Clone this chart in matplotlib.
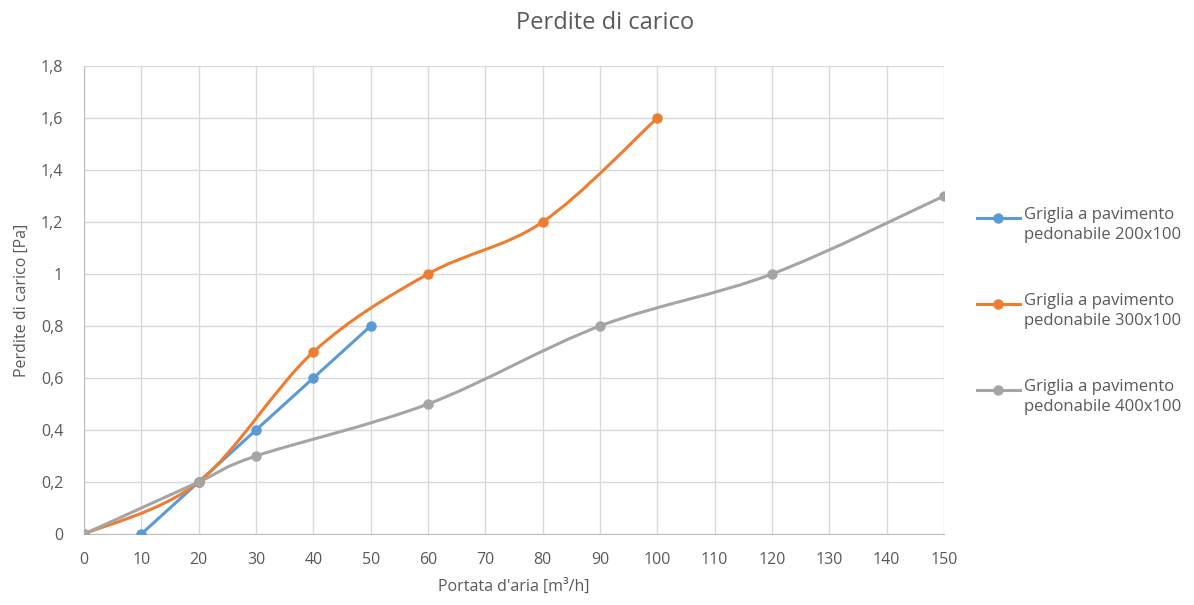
import matplotlib
matplotlib.use("Agg")
import matplotlib.pyplot as plt
import numpy as np
from matplotlib.path import Path
from matplotlib.patches import PathPatch
from matplotlib.lines import Line2D

plt.rcParams['font.family'] = ['Open Sans', 'DejaVu Sans']

# data
x_200 = [10, 20, 30, 40, 50]
y_200 = [0, 0.2, 0.4, 0.6, 0.8]
x_300 = [0, 20, 40, 60, 80, 100]
y_300 = [0, 0.2, 0.7, 1.0, 1.2, 1.6]
x_400 = [0, 20, 30, 60, 90, 120, 150]
y_400 = [0, 0.2, 0.3, 0.5, 0.8, 1.0, 1.3]
labels = ['Griglia a pavimento\npedonabile 200x100',
          'Griglia a pavimento\npedonabile 300x100',
          'Griglia a pavimento\npedonabile 400x100']
colors = ['#5B9BD5', '#ED7D31', '#A5A5A5']
x_ticks = list(range(0, 151, 10))
y_ticks = [0, 0.2, 0.4, 0.6, 0.8, 1.0, 1.2, 1.4, 1.6, 1.8]
y_ticklabels = ['0', '0,2', '0,4', '0,6', '0,8', '1', '1,2', '1,4', '1,6', '1,8']
txt = '#595959'
W, H = 1194, 605


def smooth_path(xs, ys):
    # excel-like smoothed line: bezier segments through the points
    p = np.column_stack([xs, ys]).astype(float)
    verts = [p[0]]
    codes = [Path.MOVETO]
    n = len(p)
    for i in range(n - 1):
        p0 = p[i - 1] if i > 0 else p[i]
        p3 = p[i + 2] if i + 2 < n else p[i + 1]
        c1 = p[i] + (p[i + 1] - p0) / 6.0
        c2 = p[i + 1] - (p3 - p[i]) / 6.0
        verts += [c1, c2, p[i + 1]]
        codes += [Path.CURVE4] * 3
    return Path(verts, codes)


fig = plt.figure(figsize=(W / 100, H / 100), dpi=100)
ax = fig.add_axes([84 / W, 1 - 534 / H, (944 - 84) / W, (534 - 66) / H])

series = [(x_200, y_200), (x_300, y_300), (x_400, y_400)]
for (xs, ys), c in zip(series, colors):
    ax.add_patch(PathPatch(smooth_path(xs, ys), facecolor='none', edgecolor=c,
                           lw=2.2, capstyle='round', joinstyle='round', zorder=3))
    ax.plot(xs, ys, ls='none', marker='o', ms=6.5, color=c, zorder=4)

ax.set_xlim(0, 150)
ax.set_ylim(0, 1.8)
ax.set_xticks(x_ticks)
ax.set_yticks(y_ticks)
ax.set_yticklabels(y_ticklabels)
ax.grid(True, color='#D9D9D9', lw=1)
ax.set_axisbelow(True)
for s in ['top', 'right']:
    ax.spines[s].set_visible(False)
for s in ['left', 'bottom']:
    ax.spines[s].set_color('#BFBFBF')
ax.tick_params(length=0, labelsize=11.5, colors=txt)
ax.tick_params(axis='x', pad=13)
ax.tick_params(axis='y', pad=15)

ax.set_xlabel("Portata d'aria [m³/h]", fontsize=11.5, color=txt, labelpad=8)
ax.set_ylabel('Perdite di carico [Pa]', fontsize=11.5, color=txt, labelpad=8)

fig.text(0.507, 0.962, 'Perdite di carico', ha='center', va='center',
         fontsize=17, color=txt)

# legend drawn by hand so the marker sits on the first text line, as in excel
legend_y = [218, 304, 390]
for c, lab, yp in zip(colors, labels, legend_y):
    yf = 1 - yp / H
    fig.add_artist(Line2D([977 / W, 1020 / W], [yf, yf], color=c, lw=2.2,
                          transform=fig.transFigure))
    fig.add_artist(Line2D([998.5 / W], [yf], color=c, marker='o', ms=6.5,
                          transform=fig.transFigure))
    fig.text(1024 / W, 1 - (yp - 11) / H, lab, ha='left', va='top',
             fontsize=12, color=txt, linespacing=1.3)

fig.savefig('out.png', dpi=100)
